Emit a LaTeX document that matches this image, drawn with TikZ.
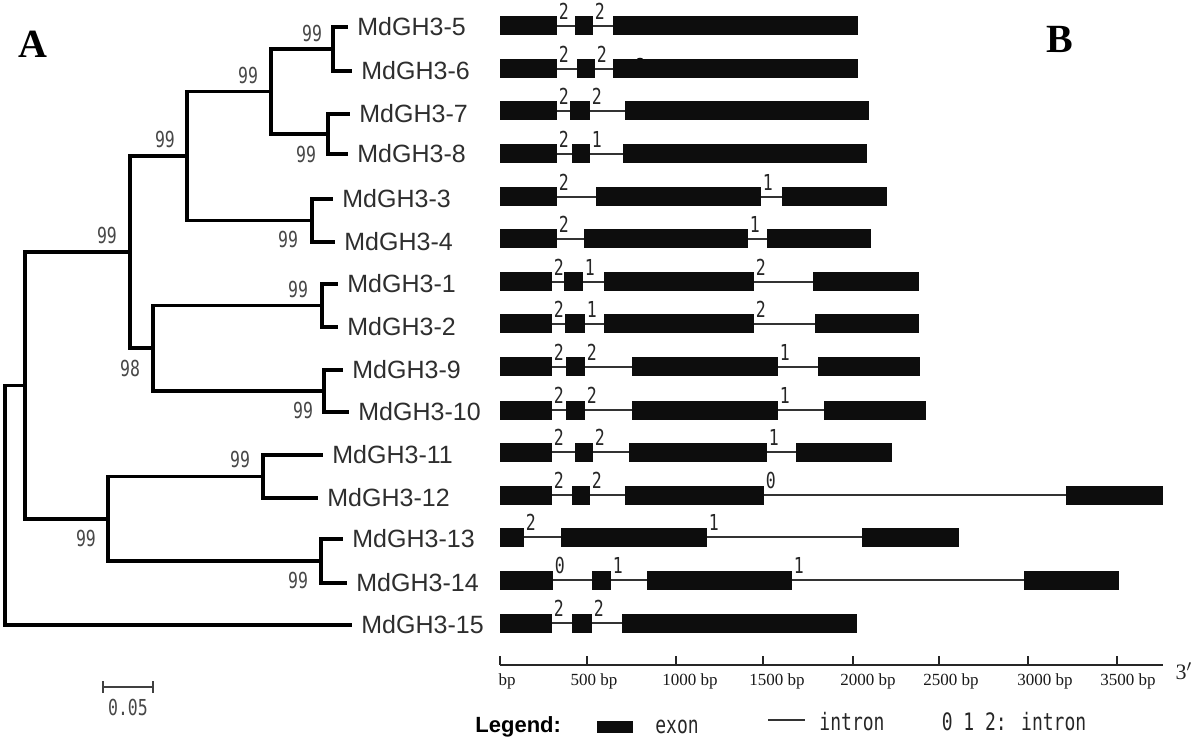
\documentclass[tikz,border=0pt]{standalone}
\usepackage{fontspec}
\setmainfont{Liberation Sans}
\newfontfamily\monof[FakeStretch=0.75]{DejaVu Sans Mono}
\newfontfamily\serf{Liberation Serif}
\begin{document}
\begin{tikzpicture}[x=0.5pt,y=-0.5pt,
  branch/.style={line width=1.6pt,black},
  leaf/.style={anchor=west,inner xsep=4.5pt,inner ysep=0pt,text=black!82,font=\fontsize{12.5}{14}\selectfont},
  bs/.style={inner sep=0pt,text=black!72,font=\monof\fontsize{11}{12}\selectfont},
  exon/.style={fill=black!95},
  intron/.style={line width=0.95pt,black!80},
  dig/.style={anchor=south west,inner sep=0pt,text=black!85,font=\monof\fontsize{11}{12}\selectfont},
  axisline/.style={line width=0.8pt,black!85},
  axlab/.style={inner sep=0pt,text=black!90,font=\serf\fontsize{8.5}{9}\selectfont},
  legtext/.style={inner sep=0pt,text=black!85,font=\monof\fontsize{12}{14}\selectfont},
  panel/.style={inner sep=0pt,font=\serf\bfseries\fontsize{20}{24}\selectfont}]
\useasboundingbox (0,0) rectangle (1200,743);

% panel letters
\node[panel] (pA) at (33,44) {A};
\node[panel] (pB) at (1060,39) {B};

% ---------- tree ----------
\node[leaf] (L5)  at (348,27)  {MdGH3-5};
\node[leaf] (L6)  at (352,71)  {MdGH3-6};
\node[leaf] (L7)  at (350,114) {MdGH3-7};
\node[leaf] (L8)  at (348,154) {MdGH3-8};
\node[leaf] (L3)  at (333,199) {MdGH3-3};
\node[leaf] (L4)  at (335,242) {MdGH3-4};
\node[leaf] (L1)  at (338,284) {MdGH3-1};
\node[leaf] (L2)  at (338,327) {MdGH3-2};
\node[leaf] (L9)  at (343,370) {MdGH3-9};
\node[leaf] (L10) at (349,412) {MdGH3-10};
\node[leaf] (L11) at (323,455) {MdGH3-11};
\node[leaf] (L12) at (318,498) {MdGH3-12};
\node[leaf] (L13) at (343,539) {MdGH3-13};
\node[leaf] (L14) at (347,583) {MdGH3-14};
\node[leaf] (L15) at (352,625) {MdGH3-15};

\coordinate (n56) at (333,49);
\coordinate (n78) at (328,134);
\coordinate (nA) at (271,91.5);
\coordinate (n34) at (312,220.5);
\coordinate (nB) at (187,156);
\coordinate (n12) at (322,305.5);
\coordinate (n910) at (324,391);
\coordinate (nD) at (153,348);
\coordinate (nC) at (130,252);
\coordinate (n1112) at (263,476.5);
\coordinate (n1314) at (321,561);
\coordinate (nE) at (108,519);
\coordinate (nF) at (25,385.5);
\coordinate (root) at (5,505);

\draw[branch] (n56) |- (L5.west);
\draw[branch] (n56) |- (L6.west);
\draw[branch] (n78) |- (L7.west);
\draw[branch] (n78) |- (L8.west);
\draw[branch] (nA) |- (n56);
\draw[branch] (nA) |- (n78);
\draw[branch] (n34) |- (L3.west);
\draw[branch] (n34) |- (L4.west);
\draw[branch] (nB) |- (nA);
\draw[branch] (nB) |- (n34);
\draw[branch] (n12) |- (L1.west);
\draw[branch] (n12) |- (L2.west);
\draw[branch] (n910) |- (L9.west);
\draw[branch] (n910) |- (L10.west);
\draw[branch] (nD) |- (n12);
\draw[branch] (nD) |- (n910);
\draw[branch] (nC) |- (nB);
\draw[branch] (nC) |- (nD);
\draw[branch] (n1112) |- (L11.west);
\draw[branch] (n1112) |- (L12.west);
\draw[branch] (n1314) |- (L13.west);
\draw[branch] (n1314) |- (L14.west);
\draw[branch] (nE) |- (n1112);
\draw[branch] (nE) |- (n1314);
\draw[branch] (nF) |- (nC);
\draw[branch] (nF) |- (nE);
\draw[branch] (root) |- (nF);
\draw[branch] (root) |- (L15.west);

% bootstrap values
\node[bs] (b56) at (312,33) {99};
\node[bs] (bA) at (248,75) {99};
\node[bs] (b78) at (306,154) {99};
\node[bs] (bB) at (165,139) {99};
\node[bs] (b34) at (288,239) {99};
\node[bs] (bC) at (107,235) {99};
\node[bs] (b12) at (298,289) {99};
\node[bs] (bD) at (130,368) {98};
\node[bs] (b910) at (303,410) {99};
\node[bs] (b1112) at (240,459) {99};
\node[bs] (bE) at (86,538) {99};
\node[bs] (b1314) at (298,580) {99};

% scale bar
\coordinate (sbL) at (103,687);
\coordinate (sbR) at (153,687);
\draw[line width=1.2pt,black!75] (sbL) -- (sbR);
\draw[line width=1.2pt,black!75] ([yshift=3pt]sbL) -- ([yshift=-3pt]sbL);
\draw[line width=1.2pt,black!75] ([yshift=3pt]sbR) -- ([yshift=-3pt]sbR);
\node[bs] (sbt) at (128,707) {0.05};

% ---------- gene structures ----------
\foreach \y/\e/\ex/\lb [count=\r] in {
 26/858/{500/557,575/593,613/858}/{557/2,593/2},
 69/858/{500/557,577/595,613/858}/{557/2,595/2},
 111/869/{500/557,570/590,625/869}/{557/2,590/2},
 154/867/{500/557,572/590,623/867}/{557/2,590/1},
 197/887/{500/557,596/761,782/887}/{557/2,761/1},
 239/871/{500/557,584/748,767/871}/{557/2,748/1},
 282/919/{500/552,564/583,604/754,813/919}/{552/2,583/1,754/2},
 324/919/{500/552,565/585,604/754,815/919}/{552/2,585/1,754/2},
 367/920/{500/552,566/585,632/778,818/920}/{552/2,585/2,778/1},
 410/926/{500/552,566/585,632/778,824/926}/{552/2,585/2,778/1},
 452/892/{500/552,575/593,629/767,796/892}/{552/2,593/2,767/1},
 495/1163/{500/552,572/590,625/764,1066/1163}/{552/2,590/2,764/0},
 537/959/{500/524,561/707,862/959}/{524/2,707/1},
 580/1119/{500/553,592/611,647/792,1024/1119}/{553/0,611/1,792/1},
 623/857/{500/552,572/592,622/857}/{552/2,592/2}}
{
  \draw[intron] (500,\y) -- (\e,\y);
  \foreach \a/\b in \ex { \fill[exon] (\a,\y-9.5) rectangle (\b,\y+9.5); }
  \foreach \x/\t [count=\k] in \lb { \node[dig] (g\r-\k) at (\x+1.5,\y-6) {\t}; }
}
\fill[exon] (640,59.5) ellipse (1.6pt and 0.9pt);

% ---------- axis ----------
\coordinate (ax0) at (500,665);
\coordinate (axE) at (1163,665);
\draw[axisline] (ax0) -- (axE);
\foreach \x/\lx/\t in {500/507/bp,587/594/500 bp,676/690/1000 bp,763/777/1500 bp,853/868/2000 bp,939/951/2500 bp,1028/1045/3000 bp,1117/1128/3500 bp}
{
  \draw[axisline] (\x,656) -- (\x,665);
  \node[axlab] at (\lx,681) {\t};
}
\node[inner sep=0pt,text=black!85,font=\serf\fontsize{11}{13}\selectfont] (three) at (1184,671) {3$'$};

% ---------- legend ----------
\node[anchor=west,inner sep=0pt,font=\bfseries\fontsize{11}{13}\selectfont] (leg) at (475,727) {Legend:};
\fill[exon] (597,721) rectangle (633,733);
\node[legtext] (lexon) at (677,727) {exon};
\draw[intron] (768,720) -- (805,720);
\node[legtext] (lintron) at (852,722) {intron};
\node[legtext] (lphase) at (1014,722) {0 1 2: intron};
\end{tikzpicture}
\end{document}
